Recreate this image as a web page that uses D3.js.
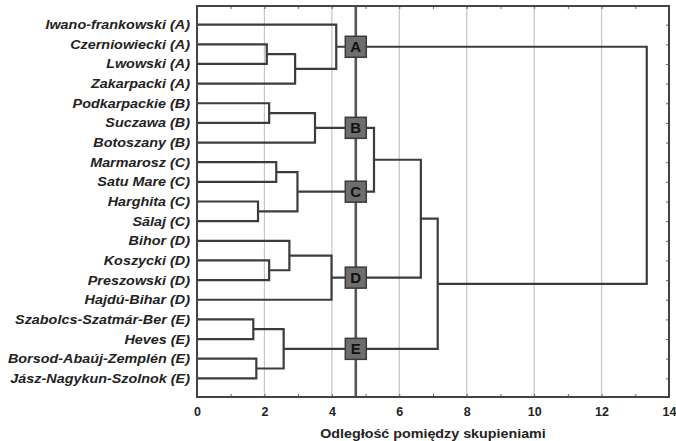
<!DOCTYPE html>
<html lang="pl">
<head>
<meta charset="UTF-8">
<title>Dendrogram</title>
<script src="https://d3js.org/d3.v7.min.js"></script>
<style>
  body { margin: 0; background: #fff; }
  svg text { font-family: "Liberation Sans", Arial, sans-serif; font-weight: bold; fill: #222; }
</style>
</head>
<body>
<svg id="chart" width="676" height="441"></svg>
<script>
// leaves, top to bottom
const leaves = [
  "Iwano-frankowski (A)", "Czerniowiecki (A)", "Lwowski (A)", "Zakarpacki (A)",
  "Podkarpackie (B)", "Suczawa (B)", "Botoszany (B)",
  "Marmarosz (C)", "Satu Mare (C)", "Harghita (C)", "Sălaj (C)",
  "Bihor (D)", "Koszycki (D)", "Preszowski (D)", "Hajdú-Bihar (D)",
  "Szabolcs-Szatmár-Ber (E)", "Heves (E)", "Borsod-Abaúj-Zemplén (E)", "Jász-Nagykun-Szolnok (E)"
];
// merges: [left, right, distance]; id >= 19 points to an earlier merge (19 + index)
const merges = [
  [15, 16, 1.67], [17, 18, 1.76], [9, 10, 1.81], [1, 2, 2.07],
  [12, 13, 2.14], [4, 5, 2.14], [7, 8, 2.35], [19, 20, 2.57],
  [11, 23, 2.74], [22, 3, 2.91], [25, 21, 2.98], [24, 6, 3.5],
  [27, 14, 3.99], [0, 28, 4.13], [30, 29, 5.25], [33, 31, 6.64],
  [34, 26, 7.14], [32, 35, 13.34]
];
const cutDistance = 4.71;
const clusterNames = ["A", "B", "C", "D", "E"];
const clusterNodes = [32, 30, 29, 31, 26];
const xTicks = d3.range(0, 15, 1);
const xLabelTicks = [0, 2, 4, 6, 8, 10, 12, 14];
const gridTicks = [2, 4, 6, 8, 10, 12];
const axisTitle = "Odległość pomiędzy skupieniami";

const svg = d3.select("#chart");
const m = { left: 197, right: 669, top: 6, bottom: 397 };

const x = d3.scaleLinear().domain([0, 14]).range([m.left, m.right]);
const y = d3.scalePoint().domain(d3.range(leaves.length)).range([m.top, m.bottom]).padding(0.95);

// node positions
const nodes = leaves.map((d, i) => ({ x: 0, y: y(i) }));
merges.forEach(([a, b, h]) => {
  nodes.push({ x: h, y: (nodes[a].y + nodes[b].y) / 2, a, b });
});

// grid
svg.append("g").selectAll("line").data(gridTicks).join("line")
  .attr("x1", d => x(d)).attr("x2", d => x(d))
  .attr("y1", m.top).attr("y2", m.bottom)
  .attr("stroke", "#c4c4c4").attr("stroke-width", 1.2);

// small inward ticks
svg.append("g").attr("transform", `translate(0,${m.bottom})`)
  .call(d3.axisBottom(x).tickValues(xTicks).tickSize(-3).tickFormat(""))
  .call(g => g.select(".domain").remove())
  .call(g => g.selectAll("line").attr("stroke", "#666"));
svg.append("g").attr("transform", `translate(0,${m.top})`)
  .call(d3.axisTop(x).tickValues(xTicks).tickSize(-3).tickFormat(""))
  .call(g => g.select(".domain").remove())
  .call(g => g.selectAll("line").attr("stroke", "#666"));
svg.append("g").attr("transform", `translate(${m.right},0)`)
  .call(d3.axisRight(y).tickSize(-3).tickFormat(""))
  .call(g => g.select(".domain").remove())
  .call(g => g.selectAll("line").attr("stroke", "#666"));

// x labels
svg.append("g").attr("transform", `translate(0,${m.bottom})`)
  .call(d3.axisBottom(x).tickValues(xLabelTicks).tickSize(0).tickPadding(10))
  .call(g => g.select(".domain").remove())
  .call(g => g.selectAll("text").attr("font-size", 12.5).attr("fill", "#222")
    .attr("font-family", "Liberation Sans, Arial, sans-serif"));

svg.append("text")
  .attr("transform", `translate(${(m.left + m.right) / 2},438) scale(1.1,1)`)
  .attr("text-anchor", "middle").attr("font-size", 13)
  .text(axisTitle);

// dendrogram links
const link = d3.line();
const linkG = svg.append("g").attr("fill", "none")
  .attr("stroke", "#3c3c3c").attr("stroke-width", 2.2);
nodes.slice(leaves.length).forEach(n => {
  const A = nodes[n.a], B = nodes[n.b];
  linkG.append("path").attr("d", link([
    [x(A.x), A.y], [x(n.x), A.y], [x(n.x), B.y], [x(B.x), B.y]
  ]));
});

// leaf labels
svg.append("g").selectAll("text").data(leaves).join("text")
  .attr("transform", (d, i) => `translate(190,${y(i) + 4.5}) scale(1.15,1)`)
  .attr("text-anchor", "end")
  .attr("font-size", 12.5)
  .attr("font-style", "italic")
  .text(d => d);

// cut line
svg.append("line")
  .attr("x1", x(cutDistance)).attr("x2", x(cutDistance))
  .attr("y1", m.top).attr("y2", m.bottom)
  .attr("stroke", "#555").attr("stroke-width", 2.6);

// cluster boxes
const boxes = svg.append("g").selectAll("g").data(clusterNames).join("g")
  .attr("transform", (d, i) => `translate(${x(cutDistance)},${nodes[clusterNodes[i]].y})`);
boxes.append("rect")
  .attr("x", -10.5).attr("y", -10.5).attr("width", 21).attr("height", 21)
  .attr("fill", "#6e6e6e").attr("stroke", "#3a3a3a").attr("stroke-width", 1.5);
boxes.append("text")
  .attr("text-anchor", "middle").attr("dy", "0.37em")
  .attr("font-size", 15).style("fill", "#111")
  .text(d => d);

// frame
svg.append("rect")
  .attr("x", m.left).attr("y", m.top).attr("width", m.right - m.left).attr("height", m.bottom - m.top)
  .attr("fill", "none").attr("stroke", "#444").attr("stroke-width", 2);
</script>
</body>
</html>
